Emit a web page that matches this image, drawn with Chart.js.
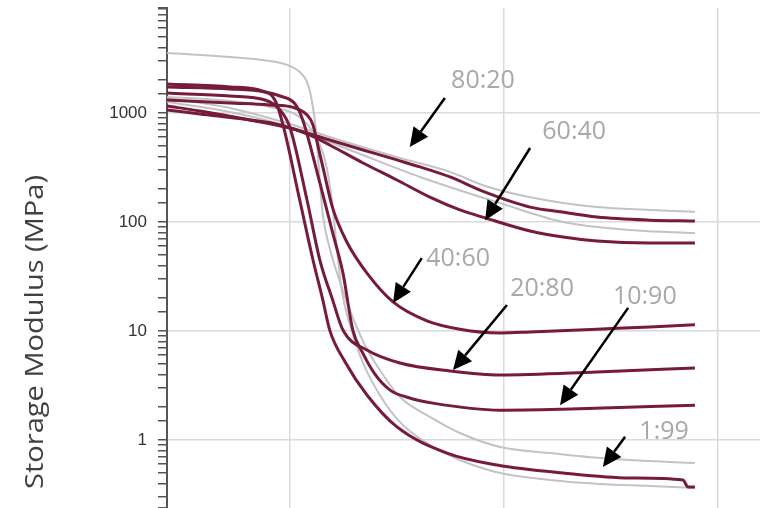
<!DOCTYPE html>
<html><head><meta charset="utf-8">
<script src="https://cdn.jsdelivr.net/npm/chart.js@4"></script>
<style>html,body{margin:0;padding:0;background:#fff;overflow:hidden}</style>
</head><body>
<canvas id="c" width="760" height="508"></canvas>
<script>
// ---- data (x: temperature-like axis, y: storage modulus in MPa) ----
const blendLabels = ['80:20','60:40','40:60','20:80','10:90','1:99'];

const x8020 = [-28.7,-21.0,-9.3,0,9.3,17.1,25.0,30.4,37.4,45.6,56.1,63.1,71.7,84.1,94.6];
const y8020 = [1159,1043,863,728,565,458,371,320,259,188,137,124,111,104,102];

const x6040 = [-28.7,-21.0,-9.3,-2.3,4.7,9.3,17.1,25.0,32.7,39.7,45.6,56.1,63.8,71.7,84.1,94.6];
const y6040 = [1066,979,863,777,628,509,348,243,169,129,109,82.6,72.8,66.9,64.2,64.2];

const x4060 = [-28.7,-14.0,-4.7,1.2,4.0,5.4,6.5,7.7,10.0,13.3,18.0,24.1,32.0,39.7,49.1,56.1,71.7,84.1,94.6];
const y4060 = [1316,1236,1184,1112,959,777,509,320,134,65.6,34.0,18.5,12.4,10.4,9.59,9.79,10.4,10.9,11.4];

const x2080 = [-28.7,-14.0,-5.8,-2.3,0,4.0,7.0,10.0,12.4,18.0,25.7,37.4,49.1,71.7,94.6];
const y2080 = [1525,1431,1316,1066,740,159,44.8,19.2,10.2,6.69,5.09,4.30,3.95,4.21,4.58];

const x1090 = [-28.7,-14.0,-5.8,-2.3,1.2,3.0,7.0,10.0,12.4,14.7,17.1,19.9,23.4,28.0,33.4,49.1,63.8,94.6];
const y1090 = [1733,1660,1559,1431,1210,863,228,79.3,34.0,10.2,6.2,4.0,2.87,2.43,2.18,1.88,1.92,2.09];

const x0199 = [-28.7,-14.0,-6.5,-3.5,-1.6,2.3,5.4,7.7,9.3,12.9,18.0,25.0,36.7,48.4,63.8,79.4,91.8,93.0,94.6];
const y0199 = [1846,1733,1592,1316,777,159,44.8,19.2,10.2,5.20,2.59,1.32,0.760,0.590,0.498,0.448,0.430,0.371,0.371];

// light grey reference curves
const xRefA = [-28.7,-14.0,-4.7,0,2.3,4.0,5.1,6.1,6.8,7.7,9.3,11.7,14.0,17.5,21.0,25.7,32.7,39.7,49.1,60.7,72.4,84.1,94.6];
const yRefA = [3550,3264,3000,2700,2379,1925,1316,698,300,116,57.7,28.2,15.6,7.44,4.39,2.48,1.63,1.16,0.863,0.760,0.684,0.642,0.615];

const xRefB = [-28.7,-14.0,-4.7,2.3,5.8,8.2,9.8,11.0,12.1,14.0,16.8,21.0,25.7,32.7,39.7,49.1,60.7,72.4,84.1,94.6];
const yRefB = [1403,1289,1135,918,628,371,159,55.3,23.8,11.4,5.42,2.59,1.46,0.900,0.656,0.498,0.430,0.395,0.379,0.363];

const xRefC = [-28.7,-14.0,0,9.3,25.7,37.4,45.6,56.1,71.7,84.1,94.6];
const yRefC = [1374,1112,792,603,387,288,214,169,137,129,124];

const xRefD = [-28.7,-14.0,0,14.0,30.4,49.1,63.8,79.4,94.6];
const yRefD = [1262,1021,745,458,259,149,100,84.5,79.3];

// axis ticks
const yTickValues = [1,10,100,1000];
const xGridValues = [0,50,100];
const yAxisTitle = 'Storage Modulus (MPa)';

// arrow annotations (data units)
const annTextX = [45.1, 66.4, 39.3, 58.9, 82.9, 87.4];
const annTextY = [1967, 670, 45.8, 24.3, 20.5, 1.18];
const annTailX = [36.2, 56.1, 30.8, 50.7, 79.0, 78.3];
const annTailY = [1374, 477, 46.7, 17.3, 16.3, 1.07];
const annTipX  = [28.0, 45.6, 24.1, 38.1, 63.1, 73.1];
const annTipY  = [488, 104, 18.1, 4.39, 2.09, 0.565];

// ---- build ----
const pts = (xs, ys) => xs.map((x, i) => ({x, y: ys[i]}));
const MAROON = '#761b3b';
const GREY = '#c3c3c3';
const mk = (label, xs, ys, color, w) => ({
  label, data: pts(xs, ys), borderColor: color, borderWidth: w,
  pointRadius: 0, fill: false, cubicInterpolationMode: 'monotone'
});
const datasets = [
  mk(blendLabels[0], x8020, y8020, MAROON, 3),
  mk(blendLabels[1], x6040, y6040, MAROON, 3),
  mk(blendLabels[2], x4060, y4060, MAROON, 3),
  mk(blendLabels[3], x2080, y2080, MAROON, 3),
  mk(blendLabels[4], x1090, y1090, MAROON, 3),
  mk(blendLabels[5], x0199, y0199, MAROON, 3),
  mk('ref A', xRefA, yRefA, GREY, 2),
  mk('ref B', xRefB, yRefB, GREY, 2),
  mk('ref C', xRefC, yRefC, GREY, 2),
  mk('ref D', xRefD, yRefD, GREY, 2)
];

const isDecade = v => yTickValues.some(t => Math.abs(t - v) < 1e-9 * t);

const annotationPlugin = {
  id: 'arrows',
  afterDatasetsDraw(chart) {
    const {ctx, scales: {x, y}} = chart;
    ctx.save();
    for (let i = 0; i < blendLabels.length; i++) {
      const x0 = x.getPixelForValue(annTailX[i]), y0 = y.getPixelForValue(annTailY[i]);
      const x1 = x.getPixelForValue(annTipX[i]),  y1 = y.getPixelForValue(annTipY[i]);
      const ang = Math.atan2(y1 - y0, x1 - x0);
      const hl = 19, hw = 9;
      const bx = x1 - hl * Math.cos(ang), by = y1 - hl * Math.sin(ang);
      ctx.strokeStyle = '#000'; ctx.lineWidth = 2.5;
      ctx.beginPath(); ctx.moveTo(x0, y0); ctx.lineTo(bx, by); ctx.stroke();
      ctx.fillStyle = '#000';
      ctx.beginPath();
      ctx.moveTo(x1, y1);
      ctx.lineTo(bx + hw * Math.sin(ang), by - hw * Math.cos(ang));
      ctx.lineTo(bx - hw * Math.sin(ang), by + hw * Math.cos(ang));
      ctx.closePath(); ctx.fill();
      ctx.font = '25px "Open Sans"';
      ctx.fillStyle = '#a8a8a8';
      ctx.textAlign = 'center'; ctx.textBaseline = 'middle';
      ctx.fillText(blendLabels[i], x.getPixelForValue(annTextX[i]), y.getPixelForValue(annTextY[i]));
    }
    ctx.restore();
  }
};

const titlePlugin = {
  id: 'ytitle',
  afterDraw(chart) {
    const ctx = chart.ctx;
    ctx.save();
    ctx.font = '26px "Open Sans"';
    ctx.fillStyle = '#404040';
    const w = ctx.measureText(yAxisTitle).width;
    ctx.translate(43, 332);
    ctx.rotate(-Math.PI / 2);
    ctx.scale(314 / w, 1);
    ctx.textAlign = 'center'; ctx.textBaseline = 'alphabetic';
    ctx.fillText(yAxisTitle, 0, 0);
    ctx.restore();
  }
};

new Chart(document.getElementById('c'), {
  type: 'line',
  data: { datasets },
  plugins: [annotationPlugin, titlePlugin],
  options: {
    responsive: false, animation: false, devicePixelRatio: 1,
    layout: { padding: { top: 8, right: 0, bottom: 0, left: 0 } },
    plugins: { legend: { display: false }, tooltip: { enabled: false } },
    scales: {
      x: {
        type: 'linear', min: -28.7, max: 109.8,
        afterBuildTicks: s => { s.ticks = xGridValues.map(v => ({value: v})); },
        ticks: { display: false },
        grid: { color: '#dadada', lineWidth: 1.5, drawTicks: false },
        border: { display: false },
        afterFit: s => { s.height = 0; s.paddingLeft = 0; s.paddingRight = 0; }
      },
      y: {
        type: 'logarithmic', min: 0.238, max: 9183,
        afterFit: s => { s.width = 167; s.paddingTop = 0; s.paddingBottom = 0; },
        ticks: {
          autoSkip: false, padding: 11, color: '#333',
          font: { family: '"Liberation Sans", Arial', size: 17 },
          callback: v => isDecade(v) ? String(Math.round(v)) : ''
        },
        grid: {
          color: c => (c.tick && isDecade(c.tick.value)) ? '#dadada' : 'rgba(0,0,0,0)',
          lineWidth: 1.5,
          tickColor: '#555', tickLength: 9, tickWidth: 1.5
        },
        border: { display: true, color: '#555', width: 2 }
      }
    }
  }
});
</script>
</body></html>
